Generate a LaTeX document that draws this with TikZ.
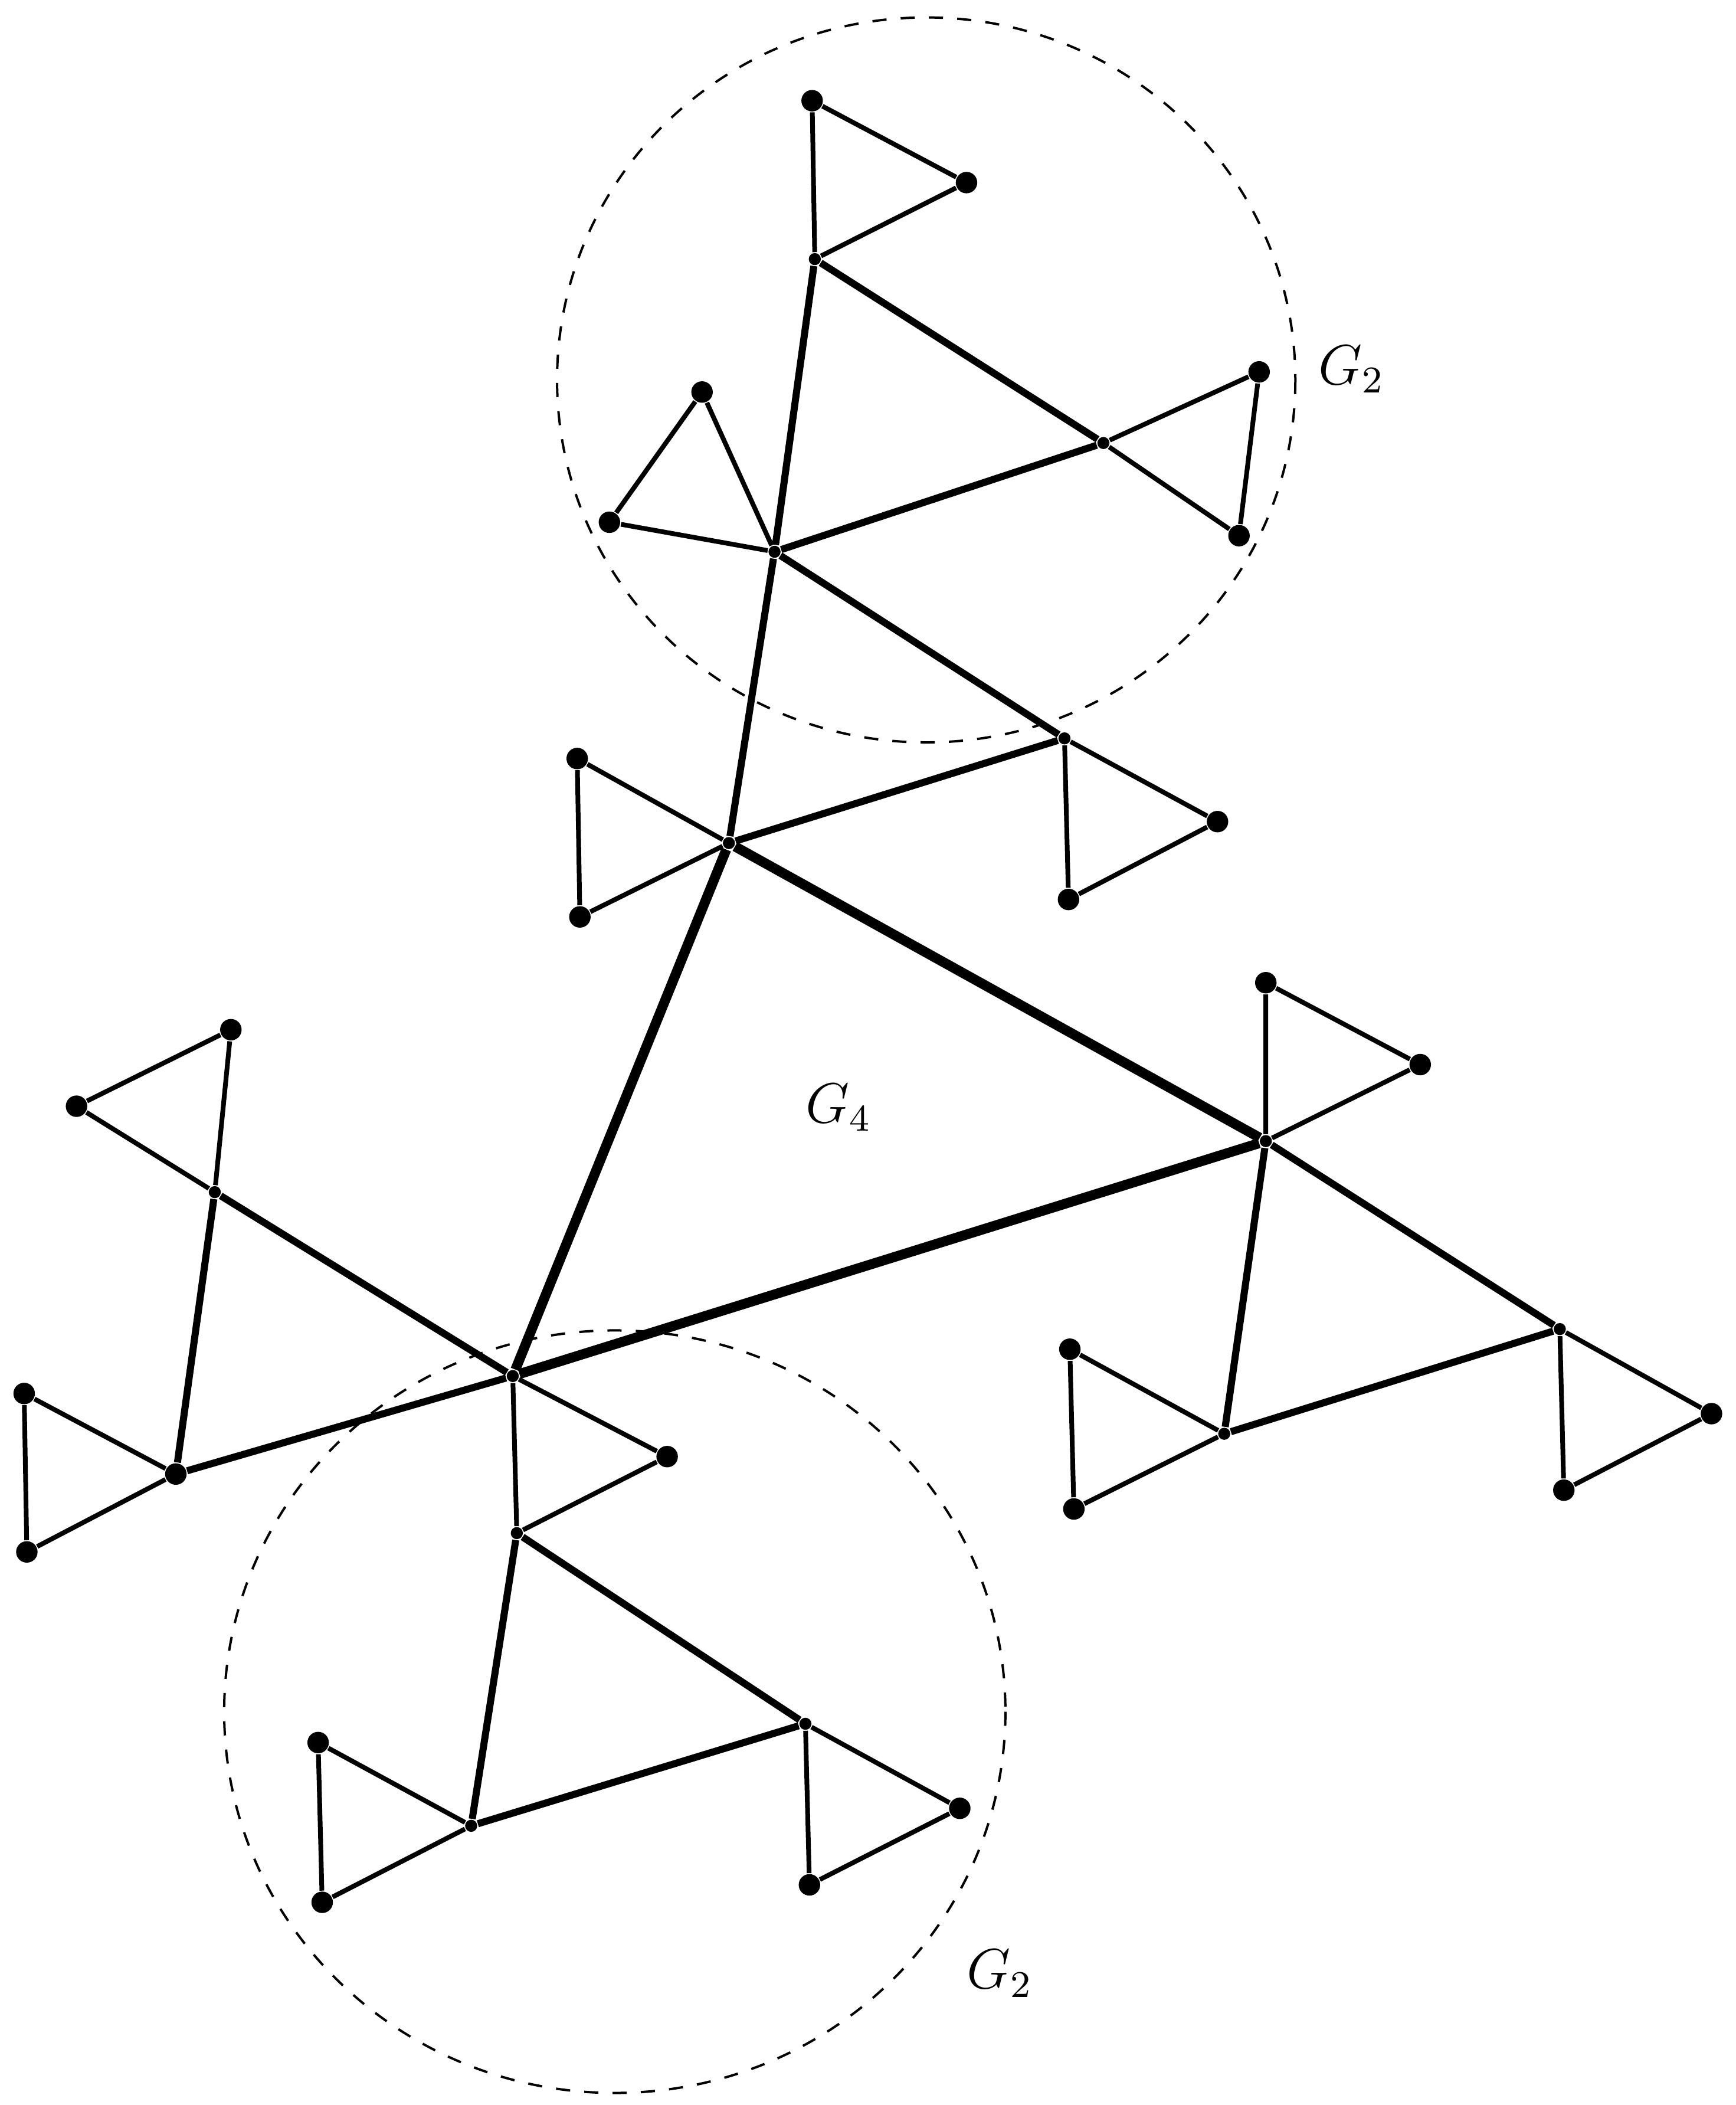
\documentclass[tikz,border=0pt]{standalone}
\begin{document}
\begin{tikzpicture}[x=0.1mm,y=-0.1mm,
  dot/.style={circle,fill=black,inner sep=0pt,minimum size=1.6mm},
  sdot/.style={circle,fill=black,inner sep=0pt,minimum size=0.9mm},
  e1/.style={line width=1.0pt},
  e2/.style={line width=1.5pt},
  e3/.style={line width=2.1pt},
  lab/.style={font=\large}]
\useasboundingbox (0,0) rectangle (1293,1568);
% top G2
\node[dot] (a1) at (605,75) {};
\node[dot] (a2) at (720,136) {};
\node[sdot] (a3) at (607,193) {};
\node[sdot] (a4) at (822,330) {};
\node[dot] (a5) at (938,277) {};
\node[dot] (a6) at (923,399) {};
\node[sdot] (a7) at (577,411) {};
\node[dot] (a8) at (523,292) {};
\node[dot] (a9) at (454,389) {};
\draw[e1] (a1)--(a2)--(a3)--(a1);
\draw[e1] (a4)--(a5)--(a6)--(a4);
\draw[e1] (a7)--(a8)--(a9)--(a7);
\draw[e2] (a3)--(a4)--(a7)--(a3);
% b
\node[sdot] (b) at (543,628) {};
\node[sdot] (b4) at (793,550) {};
\node[dot] (b5) at (907,612) {};
\node[dot] (b6) at (796,670) {};
\node[dot] (b2) at (430,565) {};
\node[dot] (b3) at (432,683) {};
\draw[e1] (b4)--(b5)--(b6)--(b4);
\draw[e1] (b)--(b2)--(b3)--(b);
\draw[e2] (a7)--(b4)--(b)--(a7);
% c
\node[sdot] (c) at (943,850) {};
\node[dot] (c1) at (943,732) {};
\node[dot] (c2) at (1058,793) {};
\node[sdot] (c3) at (1162,990) {};
\node[sdot] (c4) at (912,1068) {};
\node[dot] (c5) at (797,1005) {};
\node[dot] (c6) at (800,1124) {};
\node[dot] (c7) at (1275,1053) {};
\node[dot] (c8) at (1165,1110) {};
\draw[e1] (c)--(c1)--(c2)--(c);
\draw[e1] (c4)--(c5)--(c6)--(c4);
\draw[e1] (c3)--(c7)--(c8)--(c3);
\draw[e2] (c)--(c3)--(c4)--(c);
% d
\node[sdot] (d) at (382,1025) {};
\node[sdot] (d1) at (160,888) {};
\node[dot] (d2) at (131,1098) {};
\node[dot] (d3) at (57,824) {};
\node[dot] (d4) at (172,767) {};
\node[dot] (d5) at (18,1038) {};
\node[dot] (d6) at (20,1156) {};
\draw[e1] (d1)--(d3)--(d4)--(d1);
\draw[e1] (d2)--(d5)--(d6)--(d2);
\draw[e2] (d)--(d1)--(d2)--(d);
% bottom G2
\node[sdot] (f1) at (385,1142) {};
\node[dot] (f2) at (497,1085) {};
\node[sdot] (f3) at (600,1284) {};
\node[sdot] (f4) at (351,1360) {};
\node[dot] (f5) at (237,1298) {};
\node[dot] (f6) at (240,1417) {};
\node[dot] (f7) at (715,1347) {};
\node[dot] (f8) at (603,1404) {};
\draw[e1] (d)--(f1)--(f2)--(d);
\draw[e1] (f4)--(f5)--(f6)--(f4);
\draw[e1] (f3)--(f7)--(f8)--(f3);
\draw[e2] (f1)--(f3)--(f4)--(f1);
% big triangle
\draw[e3] (b)--(c)--(d)--(b);
% circles
\draw[dashed,line width=0.5pt] (690,283) ellipse [x radius=275,y radius=270];
\draw[dashed,line width=0.5pt] (458,1275) ellipse [x radius=291,y radius=284];
\node[lab] (l1) at (1007,275) {$G_2$};
\node[lab] (l2) at (625,825) {$G_4$};
\node[lab] (l3) at (745,1470) {$G_2$};
\end{tikzpicture}
\end{document}
